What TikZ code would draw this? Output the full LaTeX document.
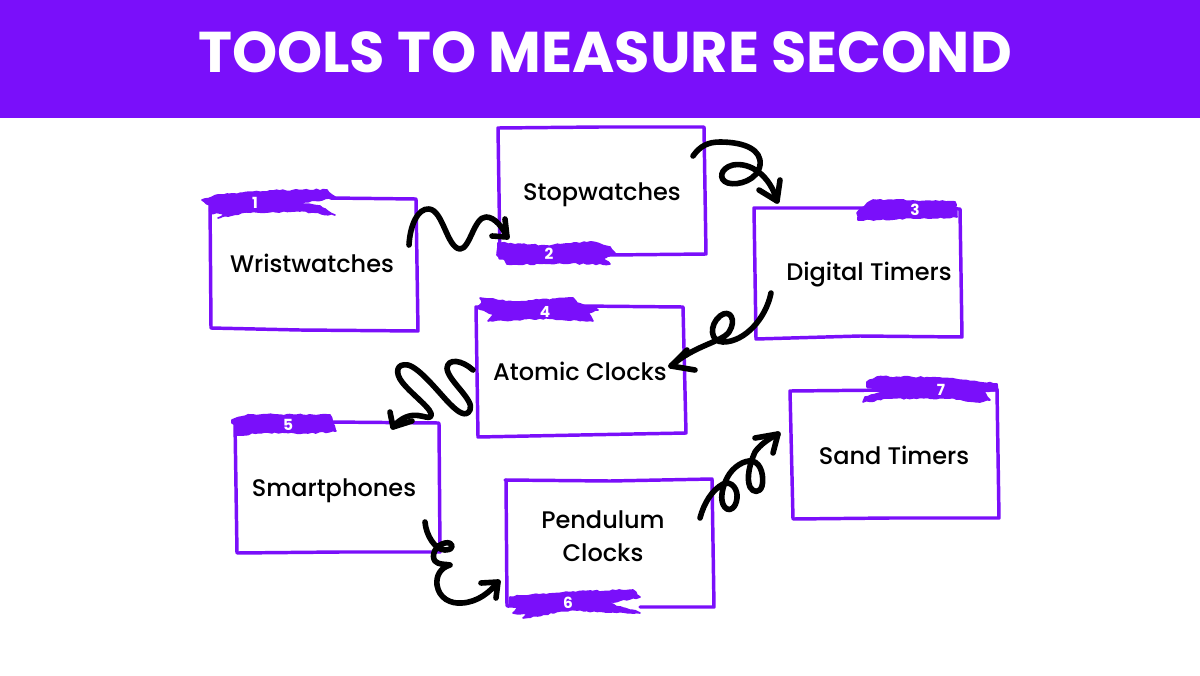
\documentclass[tikz,border=0pt]{standalone}
\usepackage{fontspec}
\usetikzlibrary{decorations.pathmorphing}
\setmainfont{Poppins}
\newfontfamily\labelfont{Poppins Medium}
\pgfmathsetseed{7}
\definecolor{bandpurple}{HTML}{7A0FFA}
\tikzset{
	sketchline/.style={draw=bandpurple,line width=2.6pt,line cap=round,line join=round},
	brushmark/.style={fill=bandpurple,draw=bandpurple,line width=1.2pt,line join=round,decorate,decoration={random steps,segment length=2.5pt,amplitude=0.6pt}},
	squiggle/.style={draw=black,line width=4.2pt,line cap=round,line join=round},
	boxlabel/.style={anchor=base,inner sep=0.75pt,align=center,font=\labelfont\fontsize{18}{25}\selectfont},
	brushnum/.style={inner sep=0.75pt,text=white,font=\fontsize{11.5}{13}\bfseries\selectfont},
}
\begin{document}
\begin{tikzpicture}[x=0.75pt,y=0.75pt,yscale=-1]
	\useasboundingbox (0,0) rectangle (1200,675);
	\fill[white] (0,0) rectangle (1200,675);
	%Title band
	\fill[bandpurple] (0,0) rectangle (1200,118);
	\node (title) at (605,52) [inner sep=0.75pt,text=white,font=\fontsize{43.1}{50}\bfseries\selectfont] {TOOLS TO MEASURE SECOND};

	%Box: Wristwatches
	\draw[sketchline] (210,200) -- (211,328) -- (300,330) -- (418,331) -- (416,199) -- (330,198);
	\fill[brushmark] (202,200) -- (220,195) -- (273,191) -- (327,190) -- (335,197) -- (300,203) -- (320,206) -- (335,215) -- (300,211) -- (245,212) -- (218,218) -- (230,213) -- (210,213) -- (210,205) -- cycle;
	%Box: Stopwatches
	\draw[sketchline] (498,128) -- (600,127) -- (704,127) -- (706,254) -- (610,255) -- (500,258) -- cycle;
	\fill[brushmark] (498,243) -- (547,246) -- (590,242) -- (610,247) -- (615,253) -- (603,258) -- (610,264) -- (570,263) -- (507,264) -- (505,260) -- (497,255) -- cycle;
	%Box: Digital Timers
	\draw[sketchline] (754,208) -- (860,208) -- (960,209) -- (962,337) -- (860,336) -- (756,339) -- cycle;
	\fill[brushmark] (873,200) -- (955,202) -- (957,217) -- (913,218) -- (858,220) -- (857,213) -- (862,208) -- cycle;
	%Box: Atomic Clocks
	\draw[sketchline] (476,307) -- (580,306) -- (683,307) -- (686,433) -- (580,435) -- (478,437) -- cycle;
	\fill[brushmark] (480,298) -- (513,302) -- (573,298) -- (577,303) -- (598,310) -- (588,313) -- (593,321) -- (540,318) -- (488,321) -- (493,314) -- (477,308) -- (482,303) -- cycle;
	%Box: Smartphones
	\draw[sketchline] (235,422) -- (237,553) -- (340,552) -- (440,552) -- (439,423) -- (330,422);
	\fill[brushmark] (232,420) -- (250,415) -- (330,415) -- (332,420) -- (336,431) -- (308,433) -- (265,432) -- (237,435) -- (236,425) -- (232,423) -- cycle;
	%Box: Pendulum Clocks
	\draw[sketchline] (505,480) -- (610,481) -- (712,479) -- (714,607) -- (640,607);
	\draw[sketchline] (506,480) -- (507,606);
	\fill[brushmark] (510,597) -- (573,592) -- (633,590) -- (640,597) -- (607,603) -- (640,613) -- (570,610) -- (523,618) -- (527,614) -- (513,613) -- (518,607) -- (508,607) -- cycle;
	%Box: Sand Timers
	\draw[sketchline] (790,391) -- (890,390) -- (997,390) -- (999,518) -- (890,518) -- (793,519) -- cycle;
	\fill[brushmark] (867,382) -- (877,377) -- (940,378) -- (997,384) -- (998,390) -- (983,391) -- (990,400) -- (980,402) -- (950,398) -- (890,398) -- (863,402) -- (865,397) -- (887,392) -- (867,387) -- cycle;

	% Text Node
	\node (wrist) at (312,272) [boxlabel] {Wristwatches};
	\node (stop) at (602,200) [boxlabel] {Stopwatches};
	\node (digital) at (869,280) [boxlabel] {Digital Timers};
	\node (atomic) at (580,380) [boxlabel] {Atomic Clocks};
	\node (phones) at (334,496) [boxlabel] {Smartphones};
	\node (pendulum) at (603,536) [boxlabel,anchor=center] {Pendulum\\Clocks};
	\node (sand) at (894,464) [boxlabel] {Sand Timers};
	% Brush numbers
	\node (num1) at (255,203) [brushnum] {1};
	\node (num2) at (549,254) [brushnum] {2};
	\node (num3) at (915,210) [brushnum] {3};
	\node (num4) at (545,312) [brushnum] {4};
	\node (num5) at (288,425) [brushnum] {5};
	\node (num6) at (568,603) [brushnum] {6};
	\node (num7) at (941,390) [brushnum] {7};

	% Free ends of the squiggles
	\coordinate (wristout) at (409,245);
	\coordinate (stopin) at (507,237);
	\coordinate (stopout) at (693,156);
	\coordinate (digitalin) at (777,201);
	\coordinate (digitalout) at (771,293);
	\coordinate (atomicin) at (671,366);
	\coordinate (atomicout) at (473,370);
	\coordinate (phonesin) at (393,427);
	\coordinate (phonesout) at (425,522);
	\coordinate (pendulumin) at (498,582);
	\coordinate (pendulumout) at (700,518);
	\coordinate (sandin) at (778,434);

	%Squiggle: 1 to 2
	\draw[squiggle] (wristout) .. controls (410,225) and (418,208) .. (429,209) .. controls (443,210) and (447,248) .. (460,249) .. controls (470,249) and (474,217) .. (486,217) .. controls (495,217) and (503,228) .. (stopin);
	\draw[squiggle] (505,219) -- (stopin) -- (492,236);
	%Squiggle: 2 to 3
	\draw[squiggle] (stopout) .. controls (700,146) and (708,142) .. (720,142) .. controls (745,142) and (762,150) .. (760,165) .. controls (758,180) and (738,186) .. (728,183) .. controls (718,180) and (720,168) .. (733,165) .. controls (750,162) and (770,175) .. (digitalin);
	\draw[squiggle] (759,190) -- (digitalin) -- (780,180);
	%Squiggle: 3 to 4
	\draw[squiggle] (digitalout) .. controls (766,318) and (745,342) .. (723,342) .. controls (710,342) and (709,325) .. (720,316) .. controls (730,308) and (737,320) .. (729,332) .. controls (722,342) and (695,345) .. (atomicin);
	\draw[squiggle] (687,350) -- (atomicin) -- (695,370);
	%Squiggle: 4 to 5
	\draw[squiggle] (atomicout) .. controls (462,360) and (448,358) .. (447,368) .. controls (447,380) and (475,400) .. (470,410) .. controls (466,418) and (458,412) .. (450,404) .. controls (440,394) and (420,368) .. (408,365) .. controls (396,363) and (395,373) .. (402,382) .. controls (412,395) and (434,410) .. (431,416) .. controls (428,422) and (412,405) .. (phonesin);
	\draw[squiggle] (390,412) -- (phonesin) -- (412,421);
	%Squiggle: 5 to 6
	\draw[squiggle] (phonesout) .. controls (426,535) and (435,550) .. (445,550) .. controls (456,550) and (453,541) .. (445,543) .. controls (435,545) and (431,556) .. (435,561) .. controls (438,565) and (446,564) .. (450,565) .. controls (440,568) and (436,576) .. (437,585) .. controls (439,598) and (450,604) .. (462,603) .. controls (478,602) and (490,592) .. (pendulumin);
	\draw[squiggle] (481,583) -- (pendulumin) -- (496,598);
	%Squiggle: 6 to 7
	\draw[squiggle] (pendulumout) .. controls (704,503) and (712,490) .. (723,484) .. controls (732,480) and (738,490) .. (737,498) .. controls (736,508) and (730,511) .. (727,509) .. controls (720,505) and (720,492) .. (727,478) .. controls (733,466) and (745,460) .. (752,461) .. controls (762,463) and (764,478) .. (762,486) .. controls (760,493) and (753,493) .. (750,487) .. controls (746,478) and (750,463) .. (755,452) .. controls (760,445) and (768,439) .. (sandin);
	\draw[squiggle] (755,438) -- (sandin) -- (773,453);
\end{tikzpicture}
\end{document}
